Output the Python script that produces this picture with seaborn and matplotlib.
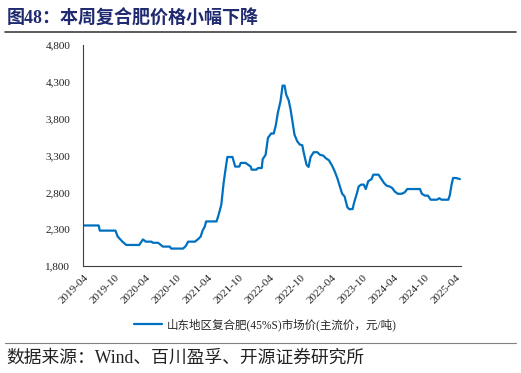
import pandas as pd
import matplotlib.pyplot as plt
import matplotlib.dates as mdates
from matplotlib.lines import Line2D
from matplotlib.ticker import FuncFormatter
import seaborn as sns

# Weekly price readings (step points)
dates = [
    '2019-04-01', '2019-06-28', '2019-07-05', '2019-10-05', '2019-10-18', '2019-11-15',
    '2019-12-08', '2020-02-22', '2020-03-15', '2020-04-01', '2020-05-04', '2020-05-12',
    '2020-06-12', '2020-07-01', '2020-07-10', '2020-08-20', '2020-08-28', '2020-11-06',
    '2020-11-22', '2020-12-06', '2021-01-15', '2021-02-03', '2021-02-18', '2021-03-01',
    '2021-03-13', '2021-03-22', '2021-05-22', '2021-06-01', '2021-06-19', '2021-07-03',
    '2021-07-18', '2021-07-25', '2021-08-24', '2021-09-09', '2021-10-03', '2021-10-12',
    '2021-11-09', '2021-11-24', '2021-12-09', '2021-12-15', '2022-01-12', '2022-01-21',
    '2022-02-12', '2022-02-18', '2022-03-07', '2022-03-21', '2022-04-09', '2022-04-24',
    '2022-05-06', '2022-05-18', '2022-06-03', '2022-06-15', '2022-06-27', '2022-07-06',
    '2022-07-21', '2022-08-01', '2022-08-12', '2022-08-24', '2022-09-09', '2022-09-24',
    '2022-10-09', '2022-10-18', '2022-11-03', '2022-11-15', '2022-11-27', '2022-12-15',
    '2023-01-06', '2023-01-21', '2023-02-09', '2023-02-24', '2023-03-15', '2023-04-03',
    '2023-04-18', '2023-05-03', '2023-05-15', '2023-06-01', '2023-06-15', '2023-07-01',
    '2023-07-12', '2023-08-01', '2023-08-12', '2023-08-27', '2023-09-06', '2023-09-21',
    '2023-10-06', '2023-10-18', '2023-11-01', '2023-11-21', '2023-12-01', '2024-01-01',
    '2024-01-18', '2024-02-03', '2024-02-18', '2024-03-06', '2024-03-21', '2024-04-06',
    '2024-04-24', '2024-05-15', '2024-06-03', '2024-06-18', '2024-09-01', '2024-09-12',
    '2024-10-01', '2024-10-18', '2024-11-03', '2024-12-09', '2024-12-24', '2025-01-06',
    '2025-02-15', '2025-02-24', '2025-03-06', '2025-03-15', '2025-04-01', '2025-04-24',
]
prices = [
    2350, 2350, 2280, 2280, 2200, 2130,
    2085, 2085, 2160, 2130, 2130, 2115,
    2115, 2080, 2063, 2063, 2036, 2036,
    2070, 2130, 2130, 2165, 2200, 2280,
    2330, 2405, 2405, 2475, 2630, 2930,
    3175, 3280, 3280, 3150, 3150, 3200,
    3200, 3175, 3150, 3108, 3108, 3130,
    3130, 3250, 3310, 3540, 3600, 3600,
    3710, 3880, 4040, 4250, 4250, 4130,
    4050, 3925, 3765, 3585, 3495, 3450,
    3440, 3335, 3175, 3145, 3280, 3345,
    3345, 3310, 3300, 3265, 3235, 3160,
    3085, 2995, 2905, 2780, 2745, 2600,
    2572, 2572, 2676, 2790, 2880, 2905,
    2905, 2845, 2950, 2980, 3040, 3040,
    2980, 2925, 2890, 2880, 2860, 2810,
    2780, 2780, 2800, 2845, 2845, 2780,
    2755, 2755, 2700, 2700, 2720, 2700,
    2700, 2765, 2905, 2995, 2995, 2980,
]
series_name = '山东地区复合肥(45%S)市场价(主流价，元/吨)'
yticks = [1800, 2300, 2800, 3300, 3800, 4300, 4800]

df = pd.DataFrame({'date': pd.to_datetime(dates), 'price': prices})

sns.set_style('white')
plt.rcParams['font.family'] = ['Liberation Serif', 'Noto Sans CJK SC']

fig = plt.figure(figsize=(5.21, 3.73), dpi=100)
ax = fig.add_axes([0.159, 0.287, 0.726, 0.592])

sns.lineplot(data=df, x='date', y='price', ax=ax, color='#0070C0',
             linewidth=1.6, label=series_name)

ax.set_xlim(pd.Timestamp('2019-03-27'), pd.Timestamp('2025-05-01'))
ax.set_ylim(1800, 4800)
ax.set_yticks(yticks)
ax.yaxis.set_major_formatter(FuncFormatter(lambda v, p: f'{int(v):,}'))
ax.xaxis.set_major_locator(mdates.MonthLocator(bymonth=[4, 10]))
ax.xaxis.set_major_formatter(mdates.DateFormatter('%Y-%m'))
ax.set_xlabel('')
ax.set_ylabel('')
for lab in ax.get_xticklabels():
    lab.set_rotation(45)
    lab.set_ha('right')
    lab.set_rotation_mode('anchor')
ax.tick_params(axis='both', labelsize=8, length=3, width=0.8, color='#404040',
               direction='out', pad=2, labelcolor='#222222')
ax.tick_params(axis='y', pad=6)
sns.despine(ax=ax)
for s in ['left', 'bottom']:
    ax.spines[s].set_color('#404040')
    ax.spines[s].set_linewidth(0.8)

ax.legend(loc='upper center', bbox_to_anchor=(0.482, -0.19), frameon=False,
          fontsize=8.3, handlelength=2.5, handletextpad=0.4)

# title and source
fig.text(0.012, 0.975, '图48：本周复合肥价格小幅下降', fontsize=13, fontweight='bold',
         color='#1F2A70', va='top', ha='left')
fig.add_artist(Line2D([0.01, 0.99], [0.915, 0.915], color='#404040', linewidth=1.2))
fig.add_artist(Line2D([0.01, 0.99], [0.08, 0.08], color='#808080', linewidth=0.8))
fig.text(0.012, 0.04, '数据来源：Wind、百川盈孚、开源证券研究所', fontsize=12.8,
         color='#222222', va='center', ha='left')

fig.savefig('out.png', dpi=100)
